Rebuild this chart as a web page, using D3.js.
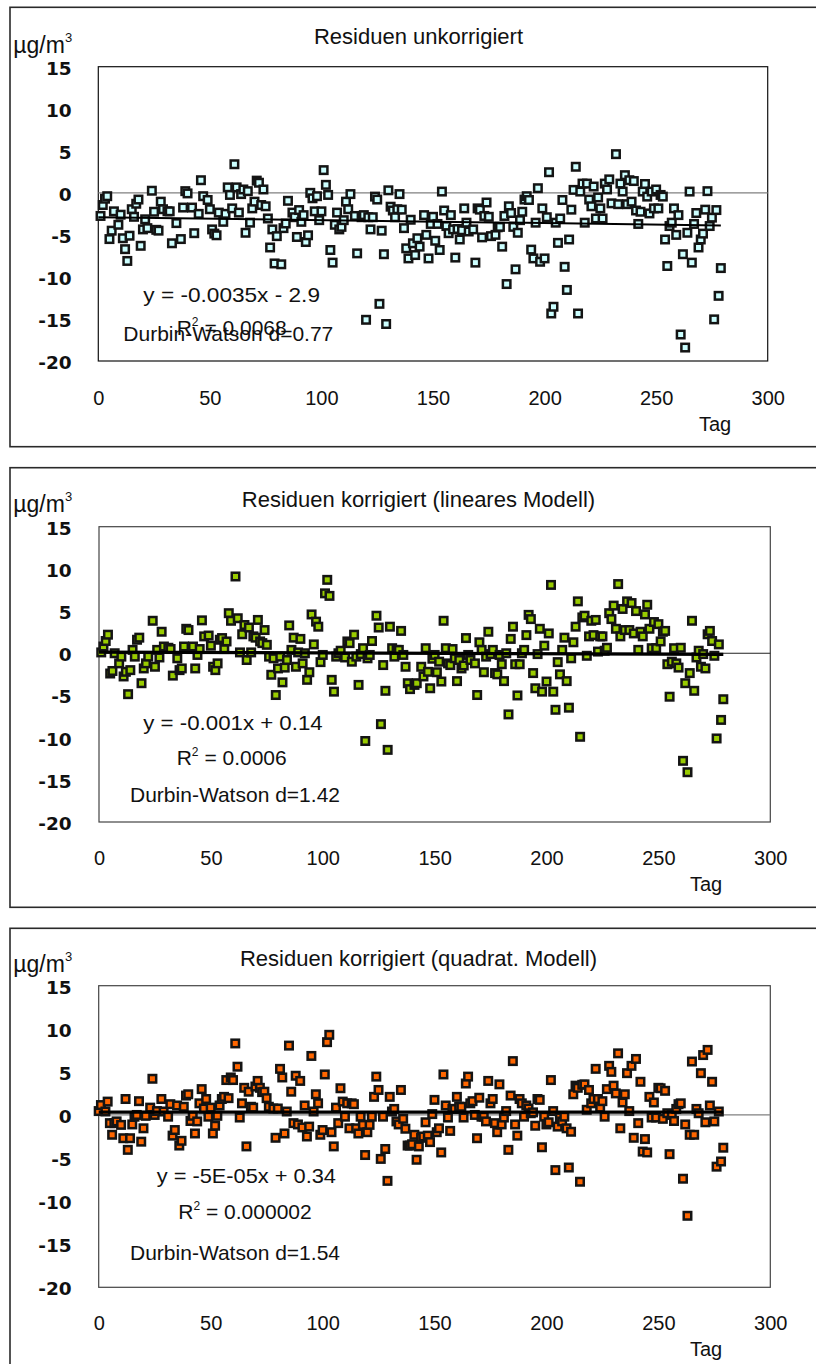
<!DOCTYPE html>
<html>
<head>
<meta charset="utf-8">
<script src="https://cdn.jsdelivr.net/npm/d3@7"></script>
<style>
  body { margin: 0; background: #fff; }
  svg { display: block; }
</style>
</head>
<body>
<script>
// ---- axis ticks ----
const yTicks = [15, 10, 5, 0, -5, -10, -15, -20];
const xTicks = [0, 50, 100, 150, 200, 250, 300];

// ---- panel texts ----
const titles = [
  "Residuen unkorrigiert",
  "Residuen korrigiert (lineares Modell)",
  "Residuen korrigiert (quadrat. Modell)"
];
const equations = ["y = -0.0035x - 2.9", "y = -0.001x + 0.14", "y = -5E-05x + 0.34"];
const rSquared = ["0.0068", "0.0006", "0.000002"];
const durbinWatson = ["0.77", "1.42", "1.54"];

// ---- linear trend of the residuals (slope, intercept) ----
const fitSlope = [-0.0035, -0.001, -0.00005];
const fitIntercept = [-2.9, 0.14, 0.34];

// ---- residuals [Tag, µg/m³] ----
const residUnkorrigiert = [
  [1,-2.75],[2,-1.45],[3,-0.7],[4,-0.4],[5,-5.5],[6,-4.5],[7,-2.2],[9,-3.8],[10,-2.6],[11,-5.4],
  [12,-6.7],[13,-8.1],[14,-5.1],[15,-1.95],[16,-2.85],[17,-1.3],[18,-0.8],[19,-6.3],[20,-4.35],[21,-3.15],
  [22,-4.2],[24,0.25],[25,-2.25],[26,-4.4],[27,-4.5],[28,-1.05],[29,-1.95],[31,-2.2],[32,-2.2],[33,-6.0],
  [35,-3.6],[37,-5.5],[38,-1.75],[39,0.2],[40,-0.07],[42,-1.75],[43,-4.8],[45,-2.5],[46,1.5],[47,-0.4],
  [49,-0.85],[50,-1.95],[51,-4.35],[52,-4.85],[53,-5.05],[54,-2.35],[56,-3.45],[57,-2.5],[58,0.65],[59,-0.25],
  [60,-1.85],[61,3.4],[62,0.65],[63,-2.35],[64,-0.15],[65,0.4],[66,-4.75],[67,0.2],[68,-3.55],[69,-1.85],
  [70,-1.05],[71,1.45],[72,1.2],[73,-1.45],[74,0.4],[75,-1.6],[76,-3.05],[77,-6.5],[78,-4.35],[79,-8.4],
  [80,-5.15],[82,-8.5],[83,-4.2],[84,-3.65],[85,-0.95],[87,-2.35],[88,-2.9],[89,-5.25],[90,-2.05],[91,-3.45],
  [92,-2.65],[93,-5.85],[94,-5.05],[95,0],[96,-0.65],[97,-2.2],[98,-0.4],[99,-3.25],[100,-2.2],[101,2.7],
  [102,0.95],[103,-0.25],[104,-6.8],[105,-8.3],[106,-3.8],[107,-2.35],[108,-4.35],[109,-4.05],[110,-3.25],[111,-1.05],
  [112,-1.95],[113,-0.15],[115,-2.75],[116,-7.2],[118,-2.9],[119,-2.65],[120,-15.1],[121,-2.9],[122,-4.35],[123,-2.9],
  [124,-0.45],[125,-0.8],[126,-13.2],[127,-4.5],[128,-7.3],[129,-15.6],[130,0.3],[131,-1.65],[132,-2.1],[133,-2.9],
  [134,-1.95],[135,-0.15],[136,-2.0],[137,-4.2],[138,-6.6],[139,-7.8],[140,-3.2],[141,-6.0],[142,-7.4],[143,-5.4],
  [144,-6.4],[146,-2.65],[147,-5.0],[148,-7.8],[149,-3.7],[150,-2.85],[151,-5.7],[152,-3.7],[153,-6.8],[154,0.15],
  [155,-2.1],[156,-3.95],[157,-4.8],[158,-2.65],[159,-4.35],[160,-7.7],[161,-4.3],[162,-5.55],[163,-4.45],[164,-1.85],
  [165,-3.55],[166,-4.6],[168,-4.35],[169,-8.3],[170,-1.85],[171,-2.0],[172,-5.3],[173,-2.75],[174,-1.15],[175,-2.85],
  [176,-5.15],[178,-5.0],[179,-4.1],[180,-4.05],[181,-6.4],[182,-2.75],[183,-10.85],[184,-1.6],[185,-2.4],[186,-4.05],
  [187,-9.1],[188,-4.75],[189,-3.25],[190,-2.25],[191,-0.8],[192,-0.4],[193,-0.85],[194,-6.75],[195,-7.8],[196,-3.55],
  [197,0.55],[198,-8.2],[199,-1.85],[200,-7.8],[201,-2.9],[202,2.45],[203,-14.35],[204,-13.55],[205,-3.55],[206,-5.95],
  [207,-3.05],[208,-0.85],[209,-8.8],[210,-11.55],[211,-5.55],[212,-2.0],[213,0.35],[214,3.1],[215,-14.35],[216,0.15],
  [217,1.1],[218,-3.55],[219,1.1],[220,-0.8],[221,-1.6],[222,0.75],[223,-3.05],[224,-0.55],[225,-1.85],[226,-3.05],
  [227,1.1],[228,0.4],[229,1.6],[230,-1.25],[232,4.6],[233,-1.35],[234,1.1],[235,0.15],[236,2.1],[237,-1.35],
  [238,1.5],[239,-1.05],[240,1.4],[241,-2.1],[242,-3.7],[243,-2.25],[244,0.15],[245,1.05],[246,-0.45],[247,-2.45],
  [248,0.15],[249,-1.85],[250,0.4],[251,-1.85],[252,-0.25],[253,-0.45],[254,-5.55],[255,-8.7],[256,-3.95],[257,-3.55],
  [258,-1.85],[259,-5.0],[260,-2.65],[261,-16.85],[262,-7.3],[263,-18.4],[264,-4.75],[265,0.15],[266,-8.3],[267,-3.7],
  [268,-2.4],[269,-6.5],[270,-5.55],[271,-4.85],[272,-2.0],[273,0.2],[274,-3.95],[275,-2.95],[276,-15.05],[277,-2.05],
  [278,-12.25],[279,-8.95]
];

const residLinear = [
  [1,0.1],[2,0.8],[3,1.45],[4,2.2],[5,-2.4],[6,-2.1],[7,0],[9,-1.2],[10,-0.4],[11,-2.75],
  [12,-2.2],[13,-4.85],[14,-2.0],[15,0.4],[16,-0.4],[17,1.6],[18,1.85],[19,-3.55],[20,-1.8],[21,-1.2],
  [22,-0.4],[24,3.85],[25,-1.6],[26,0.4],[27,-0.5],[28,2.55],[29,0.8],[31,0.65],[32,0.5],[33,-2.65],
  [35,-0.6],[36,-2.0],[37,-1.8],[38,0.8],[39,2.9],[40,2.75],[42,0.8],[43,-1.8],[44,-0.2],[45,0.5],
  [46,3.9],[47,2.0],[49,2.1],[50,0.9],[51,-1.6],[52,-2.0],[53,-1.2],[54,1.6],[55,1.8],[56,0.5],
  [57,1.4],[58,4.75],[59,3.85],[61,9.1],[62,4.15],[63,0.1],[64,2.25],[65,3.35],[66,-0.8],[67,3.05],
  [68,0.1],[69,2.0],[70,1.85],[71,3.95],[72,1.4],[73,1.2],[74,2.75],[75,1.0],[76,-0.4],[77,-2.55],
  [78,-0.6],[79,-4.95],[80,-1.8],[81,-0.4],[82,-3.45],[83,-1.7],[84,-0.8],[85,3.3],[86,0.4],[87,1.85],
  [88,-1.6],[89,0.1],[90,1.7],[91,-1.2],[92,0],[93,-3.15],[94,-2.25],[95,4.6],[96,1.05],[97,3.75],
  [98,3.15],[99,-1.05],[100,-0.2],[101,7.1],[102,8.7],[103,6.8],[104,-3.15],[105,-4.55],[106,-0.4],[107,0],
  [108,0.3],[110,-0.5],[111,1.4],[112,1.2],[113,-1.0],[114,2.2],[115,-0.4],[116,-3.75],[117,-0.1],[118,0.6],
  [119,-10.4],[120,-0.6],[121,-0.2],[122,1.45],[124,4.45],[125,3.05],[126,-8.4],[127,-1.4],[128,-4.45],[129,-11.45],
  [130,3.15],[131,0.6],[132,-0.4],[133,0.4],[134,0.4],[135,2.65],[136,-0.2],[137,-1.6],[138,-3.55],[139,-4.25],
  [141,-3.75],[142,-3.55],[144,-1.6],[145,-2.75],[146,0.6],[147,-2.2],[148,-4.15],[149,-0.65],[150,-0.2],[151,-2.25],
  [152,-1.0],[153,-3.35],[154,3.85],[155,0.6],[156,-1.2],[157,-1.4],[158,0.5],[159,-0.6],[160,-3.3],[161,-0.8],
  [162,-1.8],[163,-1.45],[164,1.8],[165,-0.2],[166,-0.8],[168,-1.2],[169,-4.95],[170,1.3],[171,0.4],[172,-2.25],
  [173,-0.4],[174,2.55],[175,-0.1],[176,0.4],[177,-2.35],[178,-2.5],[179,-0.2],[180,-1.3],[181,-3.3],[182,0],
  [183,-7.25],[184,1.7],[185,3.15],[186,-1.3],[187,-5.0],[188,-1.3],[189,0],[190,0.4],[191,2.15],[192,4.55],
  [193,4.05],[194,-2.35],[195,-4.15],[196,-0.1],[197,2.9],[198,-4.55],[199,0.9],[200,-3.35],[201,2.35],[202,8.1],
  [203,-4.55],[204,-6.7],[205,-1.05],[206,-2.5],[207,0.4],[208,1.85],[209,-3.3],[210,-6.45],[211,-0.6],[212,1.3],
  [213,3.15],[214,6.15],[215,-9.9],[216,4.25],[217,4.45],[218,-0.3],[219,2.0],[220,3.85],[221,2.15],[222,3.95],
  [223,0.2],[224,2.0],[225,2.0],[226,0.3],[227,0.65],[228,4.75],[229,4.05],[230,5.65],[231,2.9],[232,8.2],
  [233,2.0],[234,5.25],[235,2.75],[236,6.15],[237,2.75],[238,5.95],[239,2.35],[240,5.0],[241,0.4],[242,2.55],
  [243,2.0],[244,4.6],[245,5.75],[246,2.9],[247,0.6],[248,3.7],[249,0.6],[250,3.45],[251,1.4],[252,2.55],
  [253,2.65],[254,-1.3],[255,-5.15],[256,-1.0],[257,0.6],[258,-1.2],[259,-1.7],[260,0.65],[261,-12.75],[262,-3.55],
  [263,-14.1],[264,-2.35],[265,3.85],[266,-4.45],[267,-0.5],[268,0.3],[269,-1.6],[270,-0.1],[271,-1.8],[272,2.25],
  [273,2.65],[274,1.45],[275,-0.3],[276,-10.1],[277,1.05],[278,-7.9],[279,-5.45]
];

const residQuadrat = [
  [0,0.45],[1,1.15],[3,0.4],[4,1.55],[5,-0.95],[6,-2.3],[7,-0.95],[8,-0.75],[10,-1.15],[11,-2.7],
  [12,1.85],[13,-4.05],[14,-2.7],[15,-1.1],[16,-0.2],[17,0],[18,1.6],[19,-3.1],[20,-1.55],[21,-0.1],
  [23,0.85],[24,4.2],[25,0],[26,0.45],[28,1.85],[29,0.4],[31,-0.2],[32,1.25],[33,-2.4],[34,-1.75],
  [35,1.1],[36,-3.55],[37,-3.0],[38,0.95],[39,2.25],[40,2.4],[41,-0.7],[42,-0.1],[43,-2.15],[44,-0.75],
  [45,1.35],[46,3.0],[47,0.75],[48,1.85],[49,-0.2],[50,0.85],[51,-2.15],[52,-1.25],[53,-0.1],[54,1.1],
  [55,1.85],[56,2.1],[57,4.05],[58,1.95],[59,4.35],[60,4.05],[61,8.3],[62,5.6],[63,-0.3],[64,1.35],
  [65,3.15],[66,-3.65],[67,2.7],[68,0.95],[69,0.85],[70,3.3],[71,3.95],[72,3.15],[73,2.65],[74,2.7],
  [75,1.95],[76,0.95],[78,0.75],[79,-2.65],[80,0.75],[81,5.35],[82,4.35],[83,-2.15],[84,0.4],[85,8.05],
  [86,2.7],[87,-0.95],[88,4.55],[89,-1.1],[90,3.95],[91,-1.45],[92,1.1],[93,-2.5],[94,-1.35],[95,6.85],
  [96,0.4],[97,2.4],[98,1.35],[99,-2.3],[100,-1.75],[101,4.7],[102,8.45],[103,9.3],[104,-2.0],[105,-3.65],
  [106,0.85],[107,-0.95],[108,3.1],[109,1.55],[110,-0.2],[111,1.35],[112,-1.55],[113,1.35],[114,1.25],[115,-1.55],
  [116,-2.15],[117,-0.2],[118,-1.15],[119,-4.65],[120,-2.0],[121,-1.15],[122,-0.2],[123,2.1],[124,4.45],[125,2.9],
  [126,-5.1],[127,-0.2],[128,-3.95],[129,-7.65],[130,2.1],[131,0.4],[132,0.7],[133,-0.75],[134,-1.1],[135,2.9],
  [136,-0.45],[137,-1.6],[138,-3.55],[139,-3.55],[140,-3.4],[141,-2.3],[142,-5.2],[143,-3.65],[144,-2.65],[145,-2.5],
  [146,-0.85],[147,-2.4],[148,-3.15],[149,0.1],[150,1.75],[151,-2.0],[152,-1.55],[153,-4.35],[154,4.7],[155,1.1],
  [156,-0.3],[157,-1.85],[158,0.7],[159,0.7],[160,2.1],[161,0.95],[162,0.95],[163,-0.3],[164,3.65],[165,4.45],
  [166,1.35],[167,1.6],[168,0],[169,-2.7],[170,2.0],[171,-0.2],[172,-0.2],[173,-0.75],[174,3.95],[175,1.35],
  [176,1.85],[177,-0.95],[178,-2.0],[179,3.55],[180,-1.1],[181,-0.3],[182,0.45],[183,-4.05],[184,2.25],[185,6.25],
  [186,-1.1],[187,-2.4],[188,1.85],[189,1.35],[190,-0.2],[191,1.1],[192,0.75],[193,0.2],[194,0.3],[195,-1.25],
  [196,1.85],[197,1.75],[198,-3.75],[199,-0.2],[200,-1.1],[201,-0.85],[202,4.05],[203,0.45],[204,-6.4],[205,-1.35],
  [206,-0.3],[207,-0.75],[208,-0.2],[209,-1.55],[210,-6.1],[211,-1.95],[212,2.4],[213,3.4],[214,3.15],[215,-7.75],
  [216,3.5],[217,3.55],[218,0.6],[219,2.9],[220,1.35],[221,1.85],[222,5.35],[223,1.85],[224,0.85],[225,1.6],
  [226,-0.2],[227,3.0],[228,5.7],[229,5.0],[230,3.4],[231,2.5],[232,7.15],[233,-1.55],[234,1.45],[235,2.4],
  [236,4.85],[237,0.45],[238,5.7],[239,-2.65],[240,6.5],[241,-0.95],[242,3.85],[243,-4.25],[244,-2.8],[245,-4.35],
  [246,2.1],[247,-0.3],[248,1.45],[249,-0.3],[250,3.15],[251,3.1],[252,-0.45],[253,2.8],[254,0.2],[255,-4.55],
  [256,0],[257,-0.7],[258,0.7],[259,1.25],[260,1.35],[261,-7.4],[262,-1.1],[263,-11.7],[264,-2.3],[265,6.2],
  [266,-2.3],[267,0.7],[268,0.2],[269,4.85],[270,6.95],[271,-0.85],[272,7.55],[273,1.1],[274,3.85],[275,-0.75],
  [276,-6.0],[277,0.4],[278,-5.4],[279,-3.8]
];

const series = [residUnkorrigiert, residLinear, residQuadrat];
const markerFill = ["#ccffff", "#99cc00", "#ff6600"];

// ---- page layout of the three stacked panels ----
const layout = [
  { frameTop: 7.3,   frameBottom: 446.7, plot: { l: 98.3, r: 767.7, t: 66.7,  b: 361.0 },
    titleY: 44.0, unitY: 53.3, xLabelY: 398.0, tag: [715, 431],
    zeroColor: "#808080", plotStroke: "#111", trendWidth: 2.0,
    eq: [143.3, 301.7, 176.7], r2: [176.7, 334.5], dw: [123.3, 340.7, 210] },
  { frameTop: 467.7, frameBottom: 907.3, plot: { l: 99.0, r: 770.3, t: 526.7, b: 822.0 },
    titleY: 506.7, unitY: 512.3, xLabelY: 857.5, tag: [706, 891],
    zeroColor: "#222", plotStroke: "#444", trendWidth: 3.2,
    eq: [143.3, 730.0, 179.4], r2: [176.7, 765.0], dw: [130.0, 801.7, 210] },
  { frameTop: 928.3, frameBottom: 1400,  plot: { l: 98.7, r: 770.3, t: 985.7, b: 1287.3 },
    titleY: 965.7, unitY: 971.7, xLabelY: 1322.5, tag: [706, 1356],
    zeroColor: "#808080", plotStroke: "#444", trendWidth: 3.2,
    eq: [156.7, 1183.3, 179.3], r2: [178.3, 1219.0], dw: [130.0, 1260.0, 210] }
];

const sansFont = "'Liberation Sans', Arial, sans-serif";
const boldFont = "'DejaVu Sans', sans-serif";
const ink = "#111";

const svg = d3.select("body").append("svg")
  .attr("width", 816).attr("height", 1364);

layout.forEach((L, i) => {
  const g = svg.append("g");
  const x = d3.scaleLinear().domain([0, 300]).range([L.plot.l, L.plot.r]);
  const y = d3.scaleLinear().domain([-20, 15]).range([L.plot.b, L.plot.t]);

  // outer chart frame (runs past the right page edge)
  g.append("rect")
    .attr("x", 10).attr("y", L.frameTop)
    .attr("width", 900).attr("height", L.frameBottom - L.frameTop)
    .attr("fill", "none").attr("stroke", "#2a2a2a").attr("stroke-width", 1.6);

  // plot area border
  g.append("rect")
    .attr("x", x(0)).attr("y", y(15))
    .attr("width", x(300) - x(0)).attr("height", y(-20) - y(15))
    .attr("fill", "none").attr("stroke", L.plotStroke).attr("stroke-width", 1.2);

  // zero reference line
  g.append("line")
    .attr("x1", x(0)).attr("x2", x(300))
    .attr("y1", y(0)).attr("y2", y(0))
    .attr("stroke", L.zeroColor).attr("stroke-width", 1.2);

  // residual markers
  const s = 7.5;
  g.append("g").selectAll("rect")
    .data(series[i])
    .join("rect")
    .attr("x", d => x(d[0]) - s / 2)
    .attr("y", d => y(d[1]) - s / 2)
    .attr("width", s).attr("height", s)
    .attr("fill", markerFill[i])
    .attr("stroke", "#141414").attr("stroke-width", 2.5);

  // linear trend line over the observed days
  const dayMax = d3.max(series[i], d => d[0]);
  const trend = d => fitIntercept[i] + fitSlope[i] * d;
  g.append("line")
    .attr("x1", x(0)).attr("y1", y(trend(0)))
    .attr("x2", x(dayMax)).attr("y2", y(trend(dayMax)))
    .attr("stroke", "#000").attr("stroke-width", L.trendWidth);

  // y axis labels (bold, no tick marks, plain hyphen as minus)
  const yAxis = g.append("g")
    .attr("transform", `translate(${x(0)},0)`)
    .call(d3.axisLeft(y).tickValues(yTicks).tickSize(0)
      .tickPadding(x(0) - 71.7).tickFormat(d => String(d)));
  yAxis.select(".domain").remove();
  yAxis.selectAll("text")
    .attr("dy", "0.40em")
    .attr("fill", ink)
    .style("font-family", boldFont).style("font-weight", "bold").style("font-size", "18.5px");

  // x axis labels
  const xAxis = g.append("g")
    .attr("transform", `translate(0,${y(-20)})`)
    .call(d3.axisBottom(x).tickValues(xTicks).tickSize(0).tickFormat(d => String(d)));
  xAxis.select(".domain").remove();
  xAxis.selectAll("text")
    .attr("y", L.xLabelY - y(-20)).attr("dy", "0.36em")
    .attr("fill", ink)
    .style("font-family", sansFont).style("font-size", "20px");

  // title
  g.append("text")
    .attr("x", 418.5).attr("y", L.titleY)
    .attr("text-anchor", "middle")
    .attr("fill", ink)
    .style("font-family", sansFont).style("font-size", "22px")
    .text(titles[i]);

  // unit label µg/m³
  const unit = g.append("text")
    .attr("x", 13.3).attr("y", L.unitY)
    .attr("fill", ink)
    .style("font-family", sansFont).style("font-size", "23px");
  unit.append("tspan").text("µg/m");
  unit.append("tspan").attr("dy", -11).style("font-size", "13px").text("3");

  // x axis title
  g.append("text")
    .attr("x", L.tag[0]).attr("y", L.tag[1])
    .attr("text-anchor", "middle")
    .attr("fill", ink)
    .style("font-family", sansFont).style("font-size", "20px")
    .text("Tag");

  // regression annotations
  g.append("text")
    .attr("x", L.eq[0]).attr("y", L.eq[1])
    .attr("textLength", L.eq[2]).attr("lengthAdjust", "spacingAndGlyphs")
    .attr("fill", ink)
    .style("font-family", sansFont).style("font-size", "21px")
    .text(equations[i]);

  const r2 = g.append("text")
    .attr("x", L.r2[0]).attr("y", L.r2[1])
    .attr("fill", ink)
    .style("font-family", sansFont).style("font-size", "21px");
  r2.append("tspan").text("R");
  r2.append("tspan").attr("dy", -9).style("font-size", "12px").text("2");
  r2.append("tspan").attr("dy", 9).text(" = " + rSquared[i]);

  g.append("text")
    .attr("x", L.dw[0]).attr("y", L.dw[1])
    .attr("textLength", L.dw[2]).attr("lengthAdjust", "spacingAndGlyphs")
    .attr("fill", ink)
    .style("font-family", sansFont).style("font-size", "21px")
    .text("Durbin-Watson d=" + durbinWatson[i]);
});
</script>
</body>
</html>
